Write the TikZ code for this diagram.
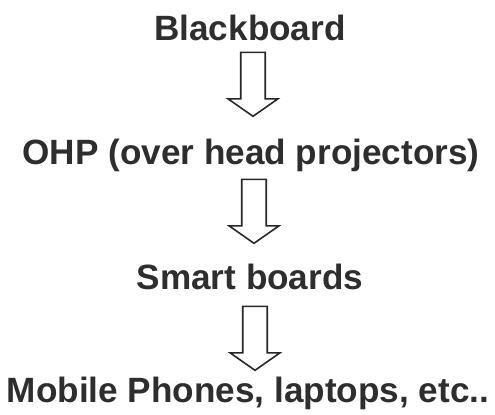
\documentclass[tikz,border=0pt]{standalone}
\usepackage{fontspec}
\setmainfont{Liberation Sans}
\usetikzlibrary{positioning, shapes.arrows}
\tikzset{
  every picture/.style={font=\bfseries\fontsize{20}{24}\selectfont},
  stage/.style={inner sep=0pt, anchor=base, text=black!82},
  flow/.style={single arrow, draw=black!85, fill=white, line width=0.9pt,
    shape border rotate=270, minimum width=0.97cm, minimum height=1.28cm,
    single arrow head extend=0.25cm, single arrow tip angle=110, inner sep=0.23cm},
}

\begin{document}
\begin{tikzpicture}[x=0.02cm, y=-0.02cm]
  \useasboundingbox (0,0) rectangle (495,414);
  \node[stage] (board) at (250,40) {Blackboard};
  \node[stage] (ohp) at (251,164) {OHP (over head projectors)};
  \node[stage] (smart) at (250,289) {Smart boards};
  \node[stage] (mobile) at (248,402) {Mobile Phones, laptops, etc..};
  \node[flow] (a1) at (253,80) {};
  \node[flow] (a2) at (254,207) {};
  \node[flow] (a3) at (255,334) {};
\end{tikzpicture}
\end{document}
